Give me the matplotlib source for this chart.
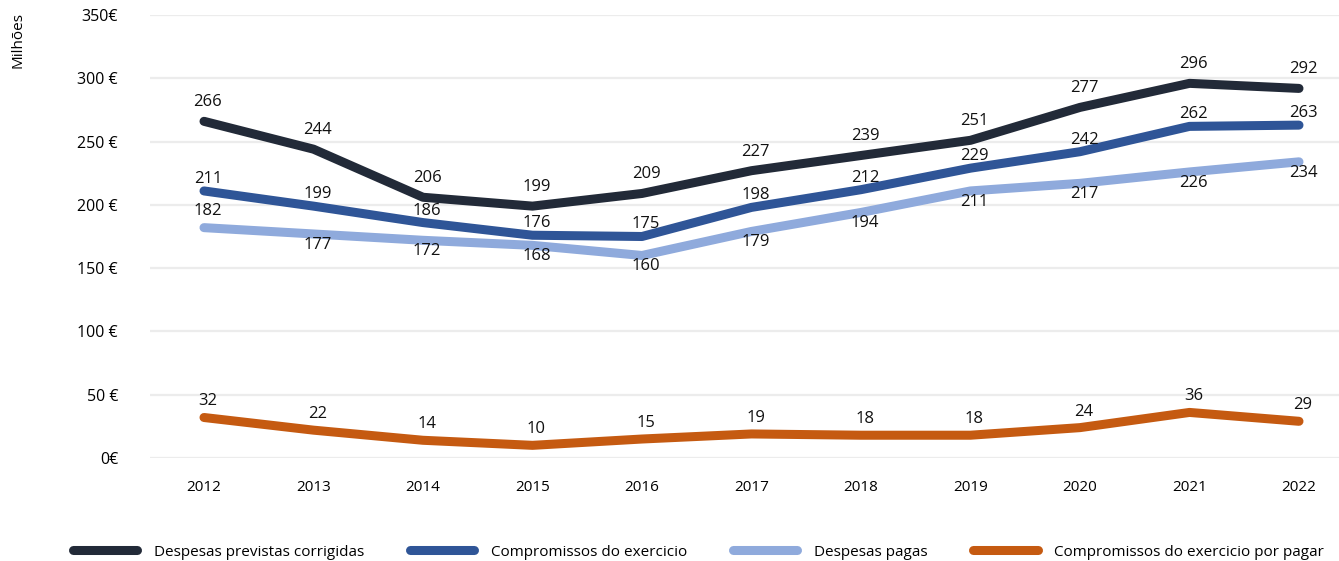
import matplotlib.pyplot as plt

anos = ["2012", "2013", "2014", "2015", "2016", "2017", "2018", "2019", "2020", "2021", "2022"]

previstas = [266, 244, 206, 199, 209, 227, 239, 251, 277, 296, 292]
compromissos = [211, 199, 186, 176, 175, 198, 212, 229, 242, 262, 263]
pagas = [182, 177, 172, 168, 160, 179, 194, 211, 217, 226, 234]
por_pagar = [32, 22, 14, 10, 15, 19, 18, 18, 24, 36, 29]

y_ticks = [0, 50, 100, 150, 200, 250, 300, 350]
y_labels = ["0€", "50 €", "100 €", "150 €", "200 €", "250 €", "300 €", "350€"]

plt.rcParams['font.family'] = ['Open Sans', 'DejaVu Sans']

W, H = 1339, 561
fig = plt.figure(figsize=(W / 100, H / 100), dpi=100)
ax = fig.add_axes([150 / W, (H - 458) / H, (W - 150) / W, (458 - 15) / H])

x = list(range(len(anos)))
series = [
    ("Despesas previstas corrigidas", previstas, "#222a38", -19),
    ("Compromissos do exercicio", compromissos, "#2f5597", -12),
    ("Despesas pagas", pagas, "#8faadc", 11),
    ("Compromissos do exercicio por pagar", por_pagar, "#c55a11", -16),
]

px = 0.72  # points per pixel at dpi 100
for name, vals, color, dy in series:
    ax.plot(x, vals, color=color, lw=6.5, solid_capstyle="round",
            solid_joinstyle="round", label=name, clip_on=False, zorder=3)
    for i, v in enumerate(vals):
        off = dy
        if name == "Despesas pagas" and i == 0:
            off = -17
        ax.annotate(str(v), (i, v), xytext=(4 * px, -off * px),
                    textcoords="offset points", ha="center", va="center",
                    fontsize=12, color="#111111", zorder=4)

ax.set_xlim(-54 / 109.5, 10 + 40 / 109.5)
ax.set_ylim(0, 350)
ax.set_yticks(y_ticks)
ax.set_yticklabels(y_labels, fontsize=11.5)
ax.set_xticks(x)
ax.set_xticklabels(anos, fontsize=11)
ax.tick_params(axis="y", length=0, pad=23)
ax.tick_params(axis="x", length=0, pad=16)
ax.grid(axis="y", color="#ececec", lw=1.6)
ax.set_axisbelow(True)
for s in ax.spines.values():
    s.set_visible(False)

fig.text(18 / W, 1 - 40 / H, "Milhões", rotation=90, ha="center", va="center",
         fontsize=11)

fig.legend(loc="center", bbox_to_anchor=(0.5217, 1 - 552 / H), ncol=4,
           frameon=False, fontsize=11, handlelength=4.2, handletextpad=1.1,
           columnspacing=3.0)

fig.savefig("out.png", dpi=100)
